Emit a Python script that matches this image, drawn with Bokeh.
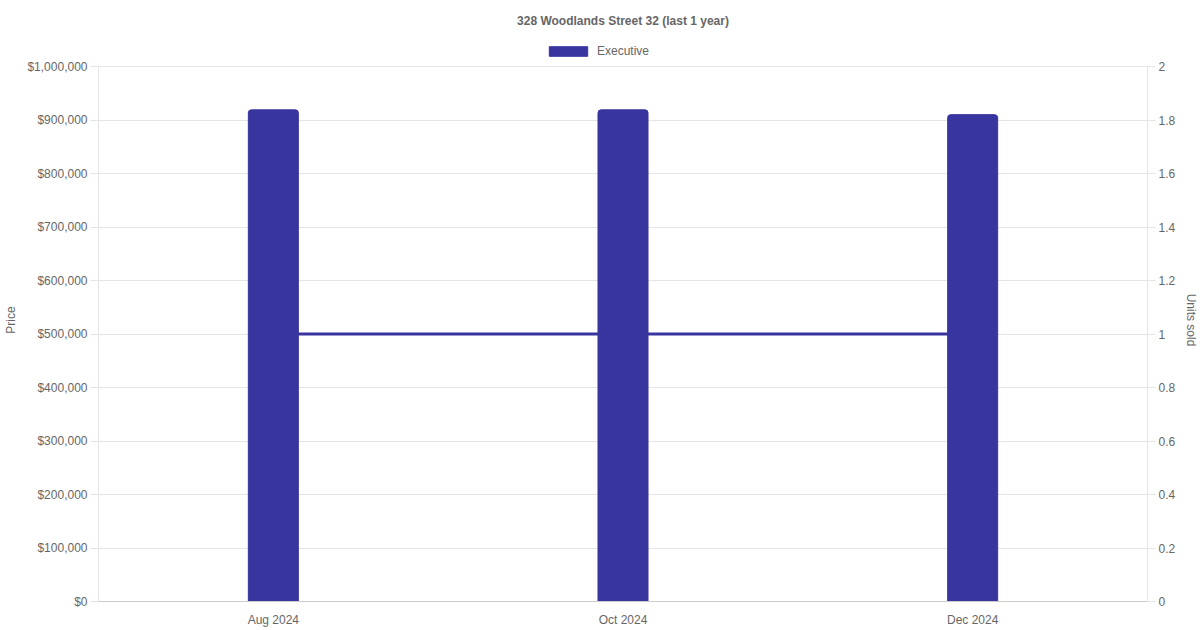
from bokeh.plotting import figure
from bokeh.models import (Range1d, LinearAxis, FixedTicker, NumeralTickFormatter,
                          Legend, LegendItem)
from bokeh.embed import file_html
from bokeh.resources import INLINE

months = ["Aug 2024", "Oct 2024", "Dec 2024"]
prices = [919000, 919000, 910000]
units = [1, 1, 1]
price_ticks = [0, 100000, 200000, 300000, 400000, 500000, 600000, 700000, 800000, 900000, 1000000]
unit_ticks = [0, 0.2, 0.4, 0.6, 0.8, 1, 1.2, 1.4, 1.6, 1.8, 2]
price_max = 1000000
units_max = 2

FONT = "Liberation Sans"
TXT = "#666666"
GRID = "#e5e5e5"
BAR = "#38359e"

# the frame runs 28px above the top tick so the legend can sit inside it
CHART_H = 535
LEGEND_H = 28
stretch = (CHART_H + LEGEND_H) / CHART_H

p = figure(x_range=months, y_range=Range1d(0, price_max * stretch),
           frame_width=1049, frame_height=CHART_H + LEGEND_H,
           output_backend="svg", toolbar_location=None,
           min_border_left=98, min_border_right=0, min_border_top=38, min_border_bottom=0)
p.extra_y_ranges = {"units": Range1d(0, units_max * stretch)}
p.outline_line_color = None
p.background_fill_color = "white"

p.title.text = "328 Woodlands Street 32 (last 1 year)"
p.title.align = "center"
p.title.text_font = FONT
p.title.text_font_size = "12px"
p.title.text_font_style = "bold"
p.title.text_color = TXT
p.title.standoff = 22

# units line sits behind the bars
p.line(months, units, y_range_name="units", line_color=BAR, line_width=3)
bars = p.vbar(x=months, top=prices, width=0.143, fill_color=BAR, line_color=BAR,
              border_radius=(3, 3, 0, 0))

# legend centred on the page, not on the plot frame
legend = Legend(items=[LegendItem(label="Executive", renderers=[bars])],
                orientation="horizontal", location=(446, CHART_H + 8),
                glyph_width=48, glyph_height=12, label_text_font=FONT,
                label_text_font_size="12px", label_text_color=TXT,
                padding=2, margin=0, border_line_color=None, spacing=0,
                label_standoff=5, background_fill_alpha=0)
p.add_layout(legend)

yl = p.yaxis[0]
yl.ticker = FixedTicker(ticks=price_ticks)
yl.formatter = NumeralTickFormatter(format="$0,0")
yl.axis_label = "Price"
yl.bounds = (0, price_max)

yr = LinearAxis(y_range_name="units", ticker=FixedTicker(ticks=unit_ticks),
                formatter=NumeralTickFormatter(format="0.[0]"), axis_label="Units sold",
                bounds=(0, units_max))
p.add_layout(yr, "right")

for ax in [yl, yr]:
    ax.major_tick_out = 8
    ax.major_tick_in = 0
    ax.minor_tick_out = 0
    ax.minor_tick_in = 0
    ax.major_tick_line_color = GRID
    ax.axis_line_color = GRID
    ax.major_label_standoff = 3
    ax.axis_label_standoff = 6
    ax.major_label_text_font = FONT
    ax.major_label_text_font_size = "12px"
    ax.major_label_text_color = TXT
    ax.axis_label_text_font = FONT
    ax.axis_label_text_font_size = "12px"
    ax.axis_label_text_font_style = "normal"
    ax.axis_label_text_color = TXT

xa = p.xaxis[0]
xa.major_tick_line_color = None
xa.minor_tick_line_color = None
xa.axis_line_color = "#cccccc"
xa.major_label_standoff = 5
xa.major_label_text_font = FONT
xa.major_label_text_font_size = "12px"
xa.major_label_text_color = TXT

p.xgrid.grid_line_color = None
p.ygrid.grid_line_color = GRID
p.x_range.range_padding = 0

open("out.html", "w").write(file_html(p, INLINE))
